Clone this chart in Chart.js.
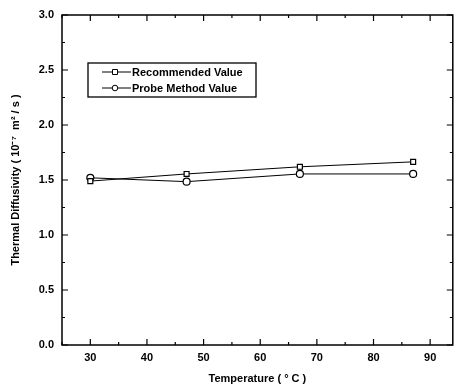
<!DOCTYPE html>
<html><head><meta charset="utf-8">
<script src="https://cdn.jsdelivr.net/npm/chart.js@4"></script>
<style>html,body{margin:0;padding:0;background:#fff}#w{width:458px;height:386px}</style>
</head><body><div id="w"><canvas id="c" width="458" height="386"></canvas></div>
<script>
const temperatures = [30, 47, 67, 87];
const recommendedValue = [1.49, 1.555, 1.62, 1.665];
const probeMethodValue = [1.52, 1.485, 1.555, 1.555];
const seriesLabels = ['Recommended Value', 'Probe Method Value'];
const xTicks = [30, 40, 50, 60, 70, 80, 90];
const yTicks = [0.0, 0.5, 1.0, 1.5, 2.0, 2.5, 3.0];

const FONT = '"Liberation Sans", Arial, sans-serif';

const framePlugin = {
  id: 'frame',
  afterDraw(chart) {
    const {ctx, chartArea: a, scales: {x, y}} = chart;
    ctx.save();
    ctx.strokeStyle = '#000';
    ctx.lineWidth = 1.5;
    ctx.strokeRect(a.left, a.top, a.right - a.left, a.bottom - a.top);
    ctx.lineWidth = 1.2;
    ctx.beginPath();
    for (let v = 25; v <= 94; v += 5) {
      const px = x.getPixelForValue(v);
      const len = (v % 10 === 0) ? 6 : 3;
      ctx.moveTo(px, a.bottom); ctx.lineTo(px, a.bottom - len);
      ctx.moveTo(px, a.top); ctx.lineTo(px, a.top + len);
    }
    for (let v = 0; v <= 3.0001; v += 0.25) {
      const py = y.getPixelForValue(v);
      const major = Math.abs(v * 2 - Math.round(v * 2)) < 1e-6;
      const len = major ? 6 : 3;
      ctx.moveTo(a.left, py); ctx.lineTo(a.left + len, py);
      ctx.moveTo(a.right, py); ctx.lineTo(a.right - len, py);
    }
    ctx.stroke();

    // legend
    const bx = 88, by = 63, bw = 168, bh = 34;
    ctx.lineWidth = 1.3;
    ctx.strokeRect(bx, by, bw, bh);
    const rows = [by + 9, by + 25];
    chart.data.datasets.forEach((ds, i) => {
      const ry = rows[i];
      ctx.lineWidth = 1;
      ctx.strokeStyle = '#000';
      ctx.beginPath(); ctx.moveTo(102, ry); ctx.lineTo(131, ry); ctx.stroke();
      ctx.fillStyle = '#fff';
      ctx.beginPath();
      if (ds.pointStyle === 'rect') { ctx.rect(112.5, ry - 2.5, 5, 5); }
      else { ctx.arc(115, ry, 2.8, 0, Math.PI * 2); }
      ctx.fill(); ctx.stroke();
      ctx.fillStyle = '#000';
      ctx.font = 'bold 11px ' + FONT;
      ctx.textBaseline = 'middle';
      ctx.textAlign = 'left';
      ctx.fillText(ds.label, 132, ry + 0.5);
    });
    ctx.restore();
  }
};

new Chart(document.getElementById('c'), {
  type: 'line',
  data: {
    datasets: [
      { label: seriesLabels[0], data: temperatures.map((t, i) => ({x: t, y: recommendedValue[i]})),
        borderColor: '#000', borderWidth: 1, pointStyle: 'rect', pointRadius: 3.5,
        pointBackgroundColor: '#fff', pointBorderColor: '#000', pointBorderWidth: 1.2, tension: 0 },
      { label: seriesLabels[1], data: temperatures.map((t, i) => ({x: t, y: probeMethodValue[i]})),
        borderColor: '#000', borderWidth: 1, pointStyle: 'circle', pointRadius: 3.5,
        pointBackgroundColor: '#fff', pointBorderColor: '#000', pointBorderWidth: 1.2, tension: 0 }
    ]
  },
  options: {
    responsive: false, animation: false, devicePixelRatio: 1,
    layout: { padding: { top: 15, right: 2, left: 0, bottom: 0 } },
    plugins: { legend: { display: false }, tooltip: { enabled: false } },
    scales: {
      x: {
        type: 'linear', min: 25, max: 94,
        afterBuildTicks(s) { s.ticks = xTicks.map(v => ({value: v})); },
        grid: { display: false, drawTicks: false },
        border: { display: false },
        ticks: { color: '#000', font: { family: FONT, size: 11, weight: 'bold' }, padding: 6, maxRotation: 0 },
        title: { display: true, text: 'Temperature ( ° C )', color: '#000',
                 font: { family: FONT, size: 11, weight: 'bold' }, padding: { top: 6, bottom: 0 } },
        afterFit(s) { s.height = 41; }
      },
      y: {
        type: 'linear', min: 0, max: 3.0,
        afterBuildTicks(s) { s.ticks = yTicks.map(v => ({value: v})); },
        grid: { display: false, drawTicks: false },
        border: { display: false },
        ticks: { color: '#000', font: { family: FONT, size: 11, weight: 'bold' }, padding: 8,
                 callback: v => Number(v).toFixed(1) },
        title: { display: true, text: 'Thermal Diffusivity ( 10⁻⁷  m² / s )', color: '#000',
                 font: { family: FONT, size: 11, weight: 'bold' }, padding: { top: 9, bottom: 0 } },
        afterFit(s) { s.width = 62; }
      }
    }
  },
  plugins: [framePlugin]
});
</script>
</body></html>
